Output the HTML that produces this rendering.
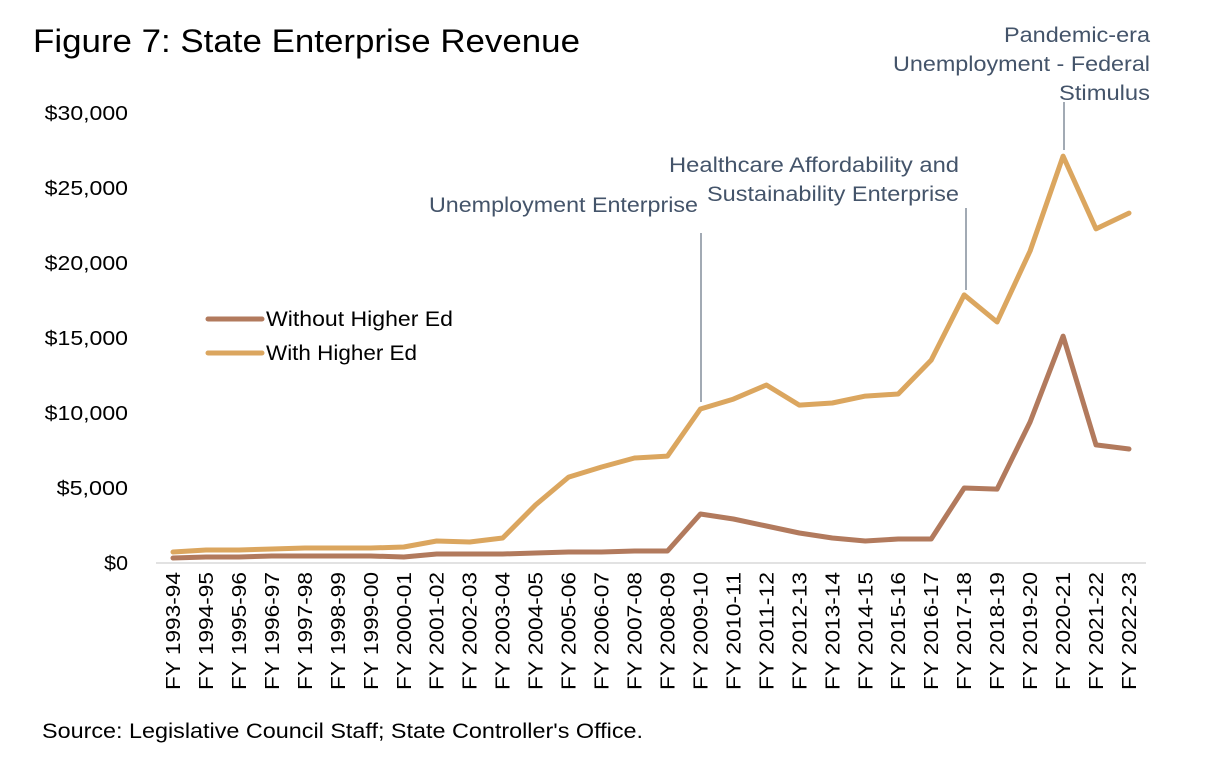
<!DOCTYPE html>
<html><head><meta charset="utf-8"><style>
body{margin:0;background:#fff;}
svg{display:block;font-family:"Liberation Sans",sans-serif;}
</style></head><body>
<svg id="chart" width="1225" height="762">
<text x="33" y="52" font-size="32" textLength="547" lengthAdjust="spacingAndGlyphs" fill="#000">Figure 7: State Enterprise Revenue</text>
<g id="yaxis"></g>
<g id="xaxis"></g>
<g id="lines"></g>
<g fill="#44546a" font-size="21">
<text x="429" y="212" textLength="269" lengthAdjust="spacingAndGlyphs">Unemployment Enterprise</text>
<line x1="701" y1="233" x2="701" y2="402" stroke="#44546a" stroke-width="1"/>
<text x="669" y="172" textLength="290" lengthAdjust="spacingAndGlyphs">Healthcare Affordability and</text>
<text x="707" y="201" textLength="252" lengthAdjust="spacingAndGlyphs">Sustainability Enterprise</text>
<line x1="966" y1="208" x2="966" y2="290" stroke="#44546a" stroke-width="1"/>
<text x="1004" y="42" textLength="146" lengthAdjust="spacingAndGlyphs">Pandemic-era</text>
<text x="893" y="71" textLength="257" lengthAdjust="spacingAndGlyphs">Unemployment - Federal</text>
<text x="1059" y="100" textLength="91" lengthAdjust="spacingAndGlyphs">Stimulus</text>
<line x1="1064" y1="102" x2="1064" y2="150" stroke="#44546a" stroke-width="1"/>
</g>
<g font-size="21" fill="#000">
<line x1="208" y1="319" x2="262" y2="319" stroke="#b27a5d" stroke-width="5" stroke-linecap="round"/>
<text x="266" y="326" textLength="187" lengthAdjust="spacingAndGlyphs">Without Higher Ed</text>
<line x1="208" y1="353" x2="262" y2="353" stroke="#dba65f" stroke-width="5" stroke-linecap="round"/>
<text x="266" y="360" textLength="151" lengthAdjust="spacingAndGlyphs">With Higher Ed</text>
</g>
<text x="42" y="738" font-size="21" textLength="601" lengthAdjust="spacingAndGlyphs" fill="#000">Source: Legislative Council Staff; State Controller's Office.</text>
</svg>
<script>
const categories=["FY 1993-94","FY 1994-95","FY 1995-96","FY 1996-97","FY 1997-98","FY 1998-99","FY 1999-00","FY 2000-01","FY 2001-02","FY 2002-03","FY 2003-04","FY 2004-05","FY 2005-06","FY 2006-07","FY 2007-08","FY 2008-09","FY 2009-10","FY 2010-11","FY 2011-12","FY 2012-13","FY 2013-14","FY 2014-15","FY 2015-16","FY 2016-17","FY 2017-18","FY 2018-19","FY 2019-20","FY 2020-21","FY 2021-22","FY 2022-23"];
const withHigherEd=[730,870,870,930,1000,1000,1000,1070,1470,1400,1670,3870,5730,6400,7000,7130,10270,10930,11870,10530,10670,11130,11270,13530,17870,16070,20800,27130,22270,23330];
const withoutHigherEd=[330,400,400,470,470,470,470,400,600,600,600,670,730,730,800,800,3270,2930,2470,2000,1670,1470,1600,1600,5000,4930,9400,15130,7870,7600];
const yTicks=[0,5000,10000,15000,20000,25000,30000];
const yTickLabels=["$0","$5,000","$10,000","$15,000","$20,000","$25,000","$30,000"];
const NS="http://www.w3.org/2000/svg";
const y0=563,ppu=450/30000,x0=173,dx=(1129-173)/29;
const yS=v=>y0-v*ppu, xS=i=>x0+i*dx;
function mk(t,a,p){const e=document.createElementNS(NS,t);for(const k in a)e.setAttribute(k,a[k]);p.appendChild(e);return e;}
const ya=document.getElementById('yaxis'),xa=document.getElementById('xaxis'),lg=document.getElementById('lines');
yTicks.forEach((v,i)=>{const L=yTickLabels[i];const t=mk('text',{x:128,y:yS(v)+7,'text-anchor':'end','font-size':20,fill:'#000',textLength:L.length*11.9,lengthAdjust:'spacingAndGlyphs'},ya);t.textContent=L;

});
const ax=mk('line',{x1:156,x2:1146,y1:y0,y2:y0,stroke:'#d9d9d9','stroke-width':1.5},xa);


categories.forEach((c,i)=>{const t=mk('text',{x:0,y:0,'text-anchor':'end','font-size':20,fill:'#000',textLength:118,lengthAdjust:'spacingAndGlyphs',transform:`translate(${xS(i)+7},572) rotate(-90)`},xa);t.textContent=c;

});
function line(vals,col,name){const d=vals.map((v,i)=>(i?'L':'M')+xS(i).toFixed(1)+','+yS(v).toFixed(1)).join('');
const p=mk('path',{d,fill:'none',stroke:col,'stroke-width':5,'stroke-linejoin':'round','stroke-linecap':'round'},lg);

}
line(withHigherEd,'#dba65f','line-with-higher-ed');
line(withoutHigherEd,'#b27a5d','line-without-higher-ed');
</script>
</body></html>
